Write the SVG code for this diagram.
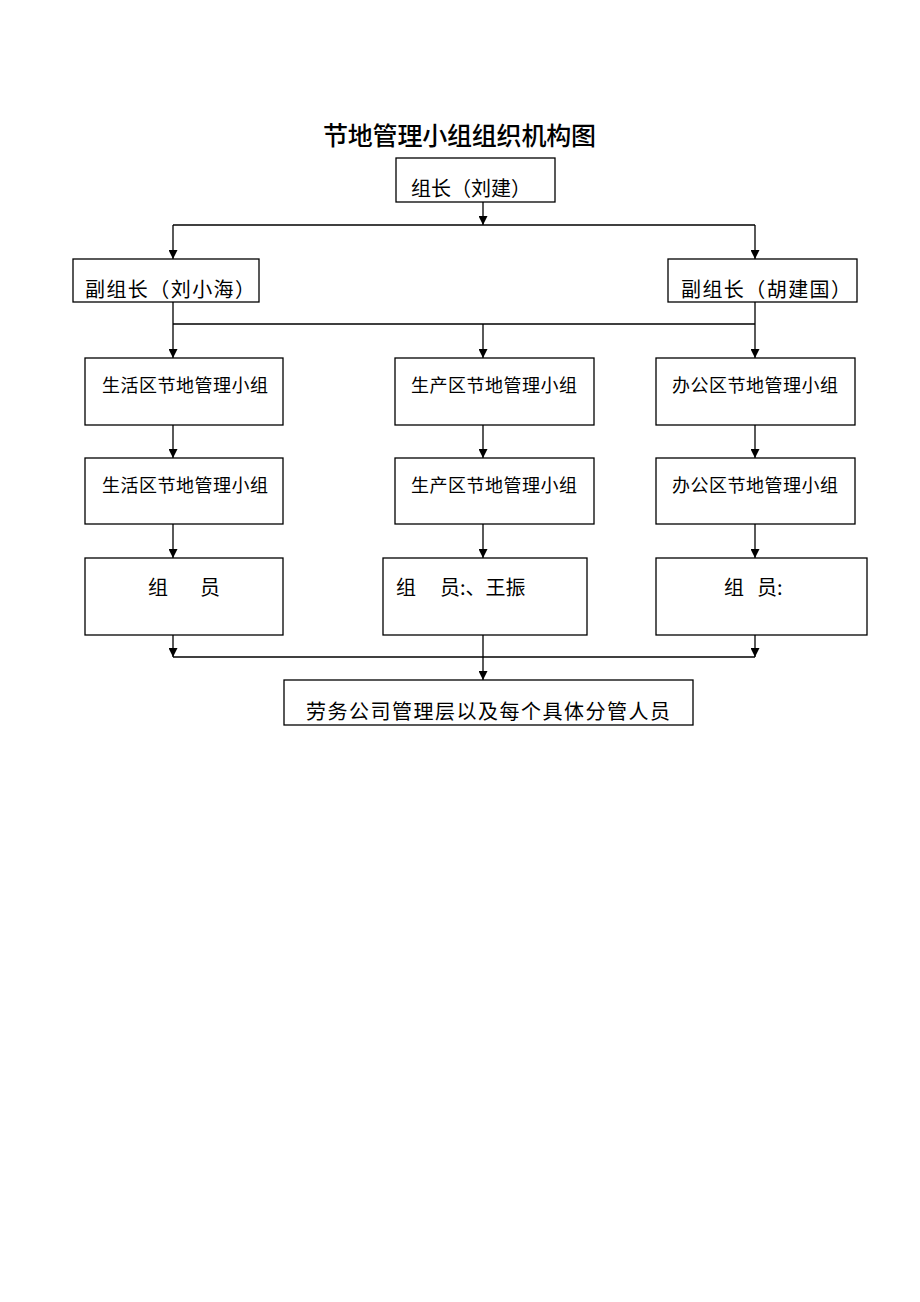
<svg xmlns="http://www.w3.org/2000/svg" width="920" height="1302" viewBox="0 0 920 1302">
<style>
.box{fill:#fff;stroke:#000;stroke-width:1.3}
.t{font-family:"Noto Sans CJK SC","Liberation Sans",sans-serif;fill:#000}
.l{font-size:20px}
.m{font-size:18px}
.c{stroke:#000;stroke-width:1.3;fill:none}
</style>
<defs>
<marker id="ah" viewBox="0 0 10 10" refX="10" refY="5" markerWidth="9" markerHeight="9" markerUnits="userSpaceOnUse" orient="auto">
<path d="M0,0 L10,5 L0,10 Z" fill="#000"/>
</marker>
</defs>
<rect width="920" height="1302" fill="#fff"/>
<text class="t" x="323" y="145" font-size="25" font-weight="500" textLength="273">节地管理小组组织机构图</text>
<g id="connectors">
<path class="c" d="M483,202 V225" marker-end="url(#ah)"/>
<path class="c" d="M173,225 H755"/>
<path class="c" d="M173,225 V259" marker-end="url(#ah)"/>
<path class="c" d="M755,225 V259" marker-end="url(#ah)"/>
<path class="c" d="M173,302 V324 M755,302 V324 M173,324 H755"/>
<path class="c" d="M173,324 V358" marker-end="url(#ah)"/>
<path class="c" d="M483,324 V358" marker-end="url(#ah)"/>
<path class="c" d="M755,324 V358" marker-end="url(#ah)"/>
<path class="c" d="M173,425 V458" marker-end="url(#ah)"/>
<path class="c" d="M483,425 V458" marker-end="url(#ah)"/>
<path class="c" d="M755,425 V458" marker-end="url(#ah)"/>
<path class="c" d="M173,524 V558" marker-end="url(#ah)"/>
<path class="c" d="M483,524 V558" marker-end="url(#ah)"/>
<path class="c" d="M755,524 V558" marker-end="url(#ah)"/>
<path class="c" d="M173,635 V657" marker-end="url(#ah)"/>
<path class="c" d="M755,635 V657" marker-end="url(#ah)"/>
<path class="c" d="M173,657 H755"/>
<path class="c" d="M483,635 V680" marker-end="url(#ah)"/>
</g>
<g id="leader">
<rect class="box" x="396" y="158" width="159" height="44"/>
<text class="t l" x="411" y="196" textLength="120">组长（刘建）</text>
</g>
<g id="deputy1">
<rect class="box" x="73" y="259" width="186" height="43"/>
<text class="t l" x="85" y="297" textLength="170">副组长（刘小海）</text>
</g>
<g id="deputy2">
<rect class="box" x="668" y="259" width="189" height="43"/>
<text class="t l" x="681" y="297" textLength="170">副组长（胡建国）</text>
</g>
<g id="live1">
<rect class="box" x="85" y="358" width="198" height="67"/>
<text class="t m" x="102" y="392" textLength="166">生活区节地管理小组</text>
</g>
<g id="prod1">
<rect class="box" x="395" y="358" width="199" height="67"/>
<text class="t m" x="411" y="392" textLength="166">生产区节地管理小组</text>
</g>
<g id="office1">
<rect class="box" x="656" y="358" width="199" height="67"/>
<text class="t m" x="672" y="392" textLength="166">办公区节地管理小组</text>
</g>
<g id="live2">
<rect class="box" x="85" y="458" width="198" height="66"/>
<text class="t m" x="102" y="492" textLength="166">生活区节地管理小组</text>
</g>
<g id="prod2">
<rect class="box" x="395" y="458" width="199" height="66"/>
<text class="t m" x="411" y="492" textLength="166">生产区节地管理小组</text>
</g>
<g id="office2">
<rect class="box" x="656" y="458" width="199" height="66"/>
<text class="t m" x="672" y="492" textLength="166">办公区节地管理小组</text>
</g>
<g id="member1">
<rect class="box" x="85" y="558" width="198" height="77"/>
<text class="t l" x="148" y="595">组</text>
<text class="t l" x="200" y="595">员</text>
</g>
<g id="member2">
<rect class="box" x="383" y="558" width="204" height="77"/>
<text class="t l" x="396" y="595">组</text>
<text class="t l" x="440" y="595">员:、王振</text>
</g>
<g id="member3">
<rect class="box" x="656" y="558" width="211" height="77"/>
<text class="t l" x="724" y="595">组</text>
<text class="t l" x="757" y="595">员:</text>
</g>
<g id="labor">
<rect class="box" x="284" y="680" width="409" height="45"/>
<text class="t l" x="306" y="719" textLength="364">劳务公司管理层以及每个具体分管人员</text>
</g>
</svg>
